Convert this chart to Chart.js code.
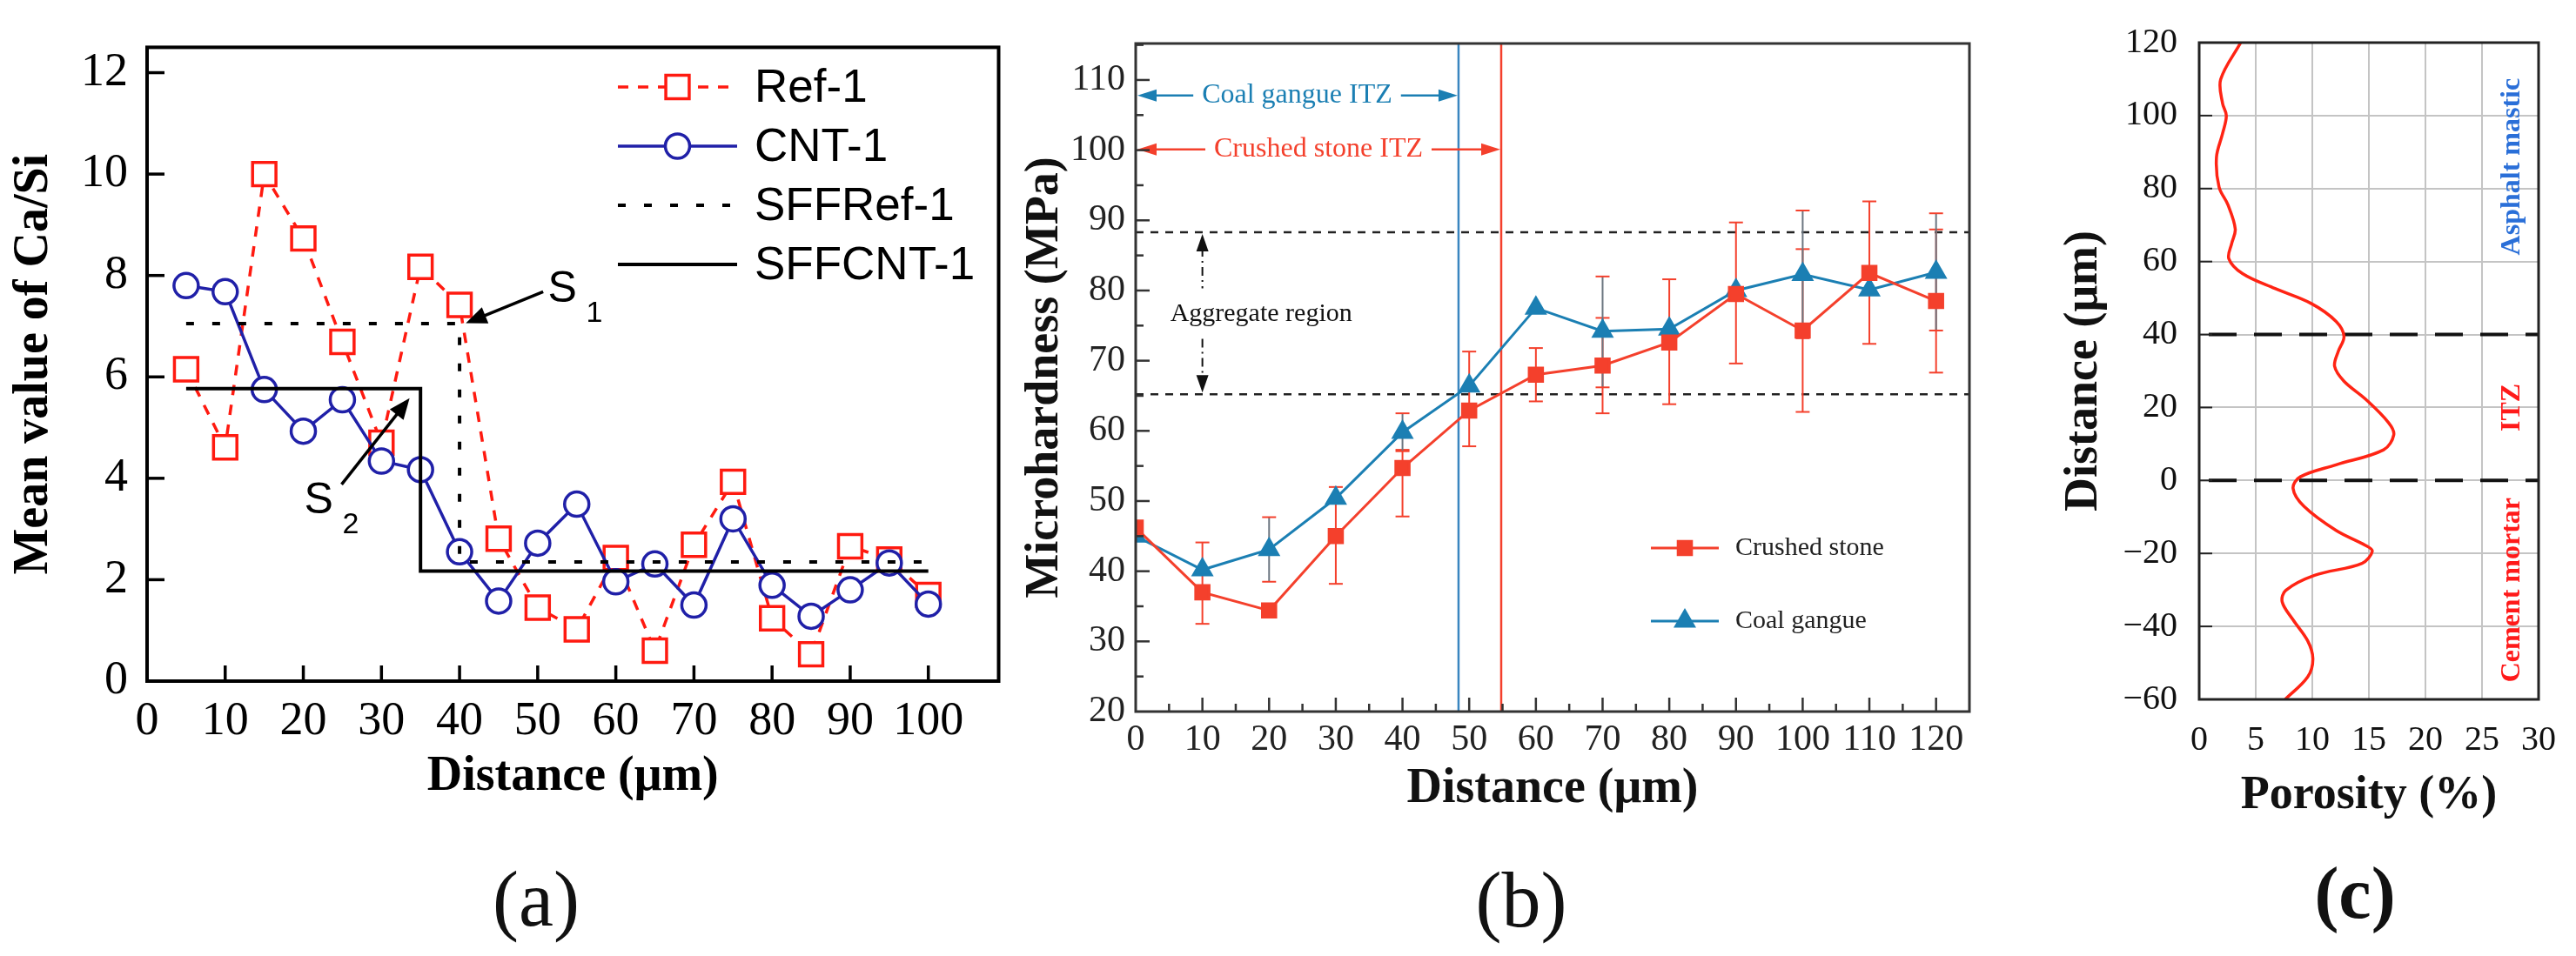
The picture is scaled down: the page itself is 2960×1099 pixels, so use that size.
<!DOCTYPE html>
<html>
<head>
<meta charset="utf-8">
<script src="https://cdn.jsdelivr.net/npm/chart.js@4.4.1/dist/chart.umd.min.js"></script>
<style>
  html, body { margin: 0; padding: 0; background: #fff; }
  body { width: 2960px; height: 1099px; position: relative; overflow: hidden; }
  .panel { position: absolute; }
  .tag { position: absolute; font-family: "Liberation Serif", serif; font-size: 90px; line-height: 1;
         color: #111; transform: translate(-50%, -50%); }
</style>
</head>
<body>
<div class="panel" style="left:0;top:0;width:1170px;height:960px"><canvas id="chartA"></canvas></div>
<div class="panel" style="left:1160px;top:0;width:1120px;height:960px"><canvas id="chartB"></canvas></div>
<div class="panel" style="left:2300px;top:0;width:660px;height:960px"><canvas id="chartC"></canvas></div>
<div class="tag" style="left:616px;top:1034px">(a)</div>
<div class="tag" style="left:1748px;top:1035px">(b)</div>
<div class="tag" style="left:2706px;top:1027px;font-weight:bold;font-size:84px">(c)</div>

<script>
// ── (a) Ca/Si mean value vs distance ------------------------------------------
const distA = [5, 10, 15, 20, 25, 30, 35, 40, 45, 50, 55, 60, 65, 70, 75, 80, 85, 90, 95, 100];
const ref1  = [6.15, 4.61, 10.0, 8.73, 6.69, 4.7, 8.17, 7.42, 2.81, 1.45,
               1.02, 2.43, 0.6, 2.69, 3.93, 1.24, 0.53, 2.66, 2.4, 1.7];
const cnt1  = [7.8, 7.68, 5.75, 4.93, 5.55, 4.34, 4.17, 2.55, 1.58, 2.72,
               3.49, 1.96, 2.31, 1.5, 3.2, 1.89, 1.28, 1.8, 2.33, 1.52];
// step fits (SFF)
const sffRefX = [5, 40, 40, 100];
const sffRefY = [7.05, 7.05, 2.35, 2.35];
const sffCntX = [5, 35, 35, 100];
const sffCntY = [5.77, 5.77, 2.17, 2.17];
const seriesA = ['Ref-1', 'CNT-1', 'SFFRef-1', 'SFFCNT-1'];

// ── (b) microhardness -------------------------------------------------------------
const distB       = [0, 10, 20, 30, 40, 50, 60, 70, 80, 90, 100, 110, 120];
const crushed     = [46.2, 37.0, 34.4, 45.0, 54.7, 62.9, 68.0, 69.3, 72.6, 79.5, 74.3, 82.5, 78.5];
const gangue      = [45.0, 40.2, 43.1, 50.4, 59.8, 66.4, 77.5, 74.2, 74.5, 80.0, 82.3, 80.1, 82.6];
const crushedLow  = [null, 32.5, null, 38.2, 47.8, 57.8, 64.2, 62.5, 63.8, 69.6, 62.7, 72.4, 68.3];
const crushedHigh = [null, 44.1, null, 52.0, 57.3, 71.3, 71.8, 76.1, 81.6, 89.7, 85.9, 92.7, 88.7];
const gangueLow   = [null, null, 38.5, null, 57.1, null, null, 66.2, null, null, 73.2, null, 74.3];
const gangueHigh  = [null, null, 47.7, null, 62.5, null, null, 82.0, null, null, 91.4, null, 91.0];
const gangueITZ   = 48.4;   // µm, ITZ width
const crushedITZ  = 54.8;
const aggregateBand = [65.2, 88.3];   // MPa
const seriesB = ['Crushed stone', 'Coal gangue'];

// ── (c) porosity profile ---------------------------------------------------------
const porosity = [3.67, 1.9, 2.07, 2.4, 2.07, 1.53, 1.76, 2.55, 3.19, 2.87, 2.62, 3.83, 6.7,
                  9.9, 12.1, 12.8, 12.3, 11.97, 12.8, 14.7, 16.75, 17.2, 16.3, 12.1, 8.94, 8.3,
                  9.26, 12.1, 14.7, 15.3, 14.4, 10.2, 7.66, 7.34, 8.3, 9.6, 10.05, 9.6, 7.6];
const depthC   = [120, 109.9, 103.3, 100, 95.1, 88.6, 80.4, 75.5, 68.9, 64.9, 60.8, 56.7, 52.6,
                  48.5, 43.6, 39.5, 35.4, 31.3, 27.2, 22.3, 15.8, 12.5, 8.4, 4.3, 1.0, -2.2,
                  -7.1, -13.7, -17.8, -19.4, -22.7, -26.0, -30.1, -33.3, -38.2, -44.0, -48.9, -53.8, -60];
const zoneBounds = [40, 0];
const zoneNames  = ['Asphalt mastic', 'ITZ', 'Cement mortar'];
const zoneMid    = [86, 20, -30];

const pts = (xs, ys) => xs.map((x, i) => ({ x, y: ys[i] }));

Chart.defaults.font.family = '"Liberation Serif", serif';
Chart.defaults.color = '#000';

// ── small canvas helpers
function seg(ctx, x1, y1, x2, y2) {
  ctx.beginPath(); ctx.moveTo(x1, y1); ctx.lineTo(x2, y2); ctx.stroke();
}
function head(ctx, x, y, ang, len, half) {
  ctx.save();
  ctx.translate(x, y); ctx.rotate(ang);
  ctx.beginPath(); ctx.moveTo(0, 0); ctx.lineTo(-len, -half); ctx.lineTo(-len, half); ctx.closePath();
  ctx.fill();
  ctx.restore();
}
function arrow(ctx, x1, y1, x2, y2, len, half) {
  const ang = Math.atan2(y2 - y1, x2 - x1);
  seg(ctx, x1, y1, x2 - Math.cos(ang) * len * 0.8, y2 - Math.sin(ang) * len * 0.8);
  head(ctx, x2, y2, ang, len, half);
}
const keepTicks = (step, max) => (s) => { s.ticks = s.ticks.filter(t => t.value % step === 0 && t.value <= max); };

// ── (a) ----------------------------------------------------------------------------
function drawPanelA() {
  const RED = '#ff1a10', BLUE = '#2020a8';

  const decoA = {
    id: 'decoA',
    afterDatasetsDraw(chart) {
      const { ctx, chartArea: a, scales: { x, y } } = chart;
      ctx.save();
      ctx.strokeStyle = '#000';
      ctx.lineWidth = 4;
      ctx.strokeRect(a.left, a.top, a.right - a.left, a.bottom - a.top);
      ctx.lineWidth = 3.5;
      x.ticks.forEach(t => { const px = x.getPixelForValue(t.value); if (px > a.left + 2) seg(ctx, px, a.bottom, px, a.bottom - 18); });
      y.ticks.forEach(t => { const py = y.getPixelForValue(t.value); if (py < a.bottom - 2) seg(ctx, a.left, py, a.left + 20, py); });

      // legend
      chart.data.datasets.forEach((ds, i) => {
        const yy = 100 + i * 68, x0 = 710, x1 = 847;
        ctx.strokeStyle = ds.borderColor;
        ctx.lineWidth = ds.borderWidth;
        ctx.setLineDash(ds.borderDash || []);
        seg(ctx, x0, yy, x1, yy);
        ctx.setLineDash([]);
        if (ds.pointRadius > 0) {
          ctx.fillStyle = '#fff';
          ctx.lineWidth = ds.pointBorderWidth;
          Chart.helpers.drawPoint(ctx, { pointStyle: ds.pointStyle, radius: ds.pointRadius, borderWidth: ds.pointBorderWidth }, (x0 + x1) / 2, yy);
        }
        ctx.fillStyle = '#000';
        ctx.font = '53px "Liberation Sans", Arial, sans-serif';
        ctx.textBaseline = 'middle';
        ctx.fillText(ds.label, 867, yy + 2);
      });

      // S1 / S2 call-outs
      ctx.strokeStyle = '#000'; ctx.fillStyle = '#000'; ctx.lineWidth = 3.5;
      arrow(ctx, x.getPixelForValue(50.7), y.getPixelForValue(7.68), x.getPixelForValue(40.8), y.getPixelForValue(7.06), 24, 10);
      arrow(ctx, x.getPixelForValue(24.9), y.getPixelForValue(3.88), x.getPixelForValue(33.6), y.getPixelForValue(5.58), 24, 10);
      ctx.textBaseline = 'middle';
      ctx.font = '50px "Liberation Sans", Arial, sans-serif';
      ctx.fillText('S', x.getPixelForValue(51.3), y.getPixelForValue(7.71));
      ctx.fillText('S', x.getPixelForValue(20.1), y.getPixelForValue(3.54));
      ctx.font = '34px "Liberation Sans", Arial, sans-serif';
      ctx.fillText('1', x.getPixelForValue(56.2), y.getPixelForValue(7.25));
      ctx.fillText('2', x.getPixelForValue(25.0), y.getPixelForValue(3.08));
      ctx.restore();
    }
  };

  new Chart(document.getElementById('chartA'), {
    type: 'line',
    data: {
      datasets: [
        { label: seriesA[0], data: pts(distA, ref1), borderColor: RED, borderWidth: 3.5, borderDash: [12, 11],
          pointStyle: 'rect', pointRadius: 19, pointBorderWidth: 3.5, pointBorderColor: RED, pointBackgroundColor: '#fff', order: 2 },
        { label: seriesA[1], data: pts(distA, cnt1), borderColor: BLUE, borderWidth: 3.5,
          pointStyle: 'circle', pointRadius: 14, pointBorderWidth: 3.5, pointBorderColor: BLUE, pointBackgroundColor: '#fff', order: 1 },
        { label: seriesA[2], data: pts(sffRefX, sffRefY), borderColor: '#000', borderWidth: 4, borderDash: [9, 21], pointRadius: 0, order: 0 },
        { label: seriesA[3], data: pts(sffCntX, sffCntY), borderColor: '#000', borderWidth: 4, pointRadius: 0, order: 0 }
      ]
    },
    options: {
      responsive: true, maintainAspectRatio: false, animation: false, devicePixelRatio: 1,
      layout: { padding: { left: 0, top: 50, right: 16, bottom: 0 } },
      plugins: { legend: { display: false }, tooltip: { enabled: false } },
      scales: {
        x: {
          type: 'linear', min: 0, max: 109,
          grid: { display: false, drawTicks: false }, border: { display: false },
          ticks: { stepSize: 10, includeBounds: false, autoSkip: false, maxRotation: 0, padding: 14, font: { size: 54 }, color: '#000' },
          afterBuildTicks: keepTicks(10, 100),
          afterFit: (s) => { s.height = 177; },
          title: { display: true, text: 'Distance (μm)', font: { size: 56, weight: 'bold' }, padding: { bottom: 33 } }
        },
        y: {
          type: 'linear', min: 0, max: 12.5,
          grid: { display: false, drawTicks: false }, border: { display: false },
          ticks: { stepSize: 2, includeBounds: false, padding: 22, font: { size: 54 }, color: '#000' },
          afterBuildTicks: keepTicks(2, 12),
          afterFit: (s) => { s.width = 169; },
          title: { display: true, text: 'Mean value of Ca/Si', font: { size: 56, weight: 'bold' }, padding: { top: 6 } }
        }
      }
    },
    plugins: [decoA]
  });
}

// ── (b) ----------------------------------------------------------------------------
function drawPanelB() {
  const RED = '#f4402c', BLUE = '#1b7fb3';

  function errBars(ctx, x, y, lo, hi, stem, cap) {
    ctx.lineWidth = 2;
    distB.forEach((v, i) => {
      if (lo[i] == null) return;
      const px = x.getPixelForValue(v), p1 = y.getPixelForValue(lo[i]), p2 = y.getPixelForValue(hi[i]);
      ctx.strokeStyle = stem; seg(ctx, px, p1, px, p2);
      ctx.strokeStyle = cap; seg(ctx, px - 8, p1, px + 8, p1); seg(ctx, px - 8, p2, px + 8, p2);
    });
  }

  function itzArrow(ctx, x, y, toV, atV, text, color) {
    const x0 = x.getPixelForValue(0), x1 = x.getPixelForValue(toV), py = y.getPixelForValue(atV);
    ctx.font = '32px "Liberation Serif", serif';
    const w = ctx.measureText(text).width, cx = (x0 + x1) / 2;
    ctx.strokeStyle = color; ctx.fillStyle = color; ctx.lineWidth = 2.5;
    seg(ctx, x0 + 10, py, cx - w / 2 - 10, py);
    seg(ctx, cx + w / 2 + 10, py, x1 - 10, py);
    head(ctx, x0 + 2, py, Math.PI, 22, 7);
    head(ctx, x1 - 1, py, 0, 22, 7);
    ctx.textAlign = 'center'; ctx.textBaseline = 'middle';
    ctx.fillText(text, cx, py);
  }

  const decoB = {
    id: 'decoB',
    beforeDatasetsDraw(chart) {
      const { ctx, chartArea: a, scales: { x, y } } = chart;
      ctx.save();
      // ITZ boundaries
      ctx.lineWidth = 2.5;
      ctx.strokeStyle = '#3a86c0'; seg(ctx, x.getPixelForValue(gangueITZ), a.top, x.getPixelForValue(gangueITZ), a.bottom);
      ctx.strokeStyle = RED;       seg(ctx, x.getPixelForValue(crushedITZ), a.top, x.getPixelForValue(crushedITZ), a.bottom);
      // aggregate band
      ctx.strokeStyle = '#222'; ctx.setLineDash([9, 8]);
      aggregateBand.forEach(v => seg(ctx, a.left, y.getPixelForValue(v), a.right, y.getPixelForValue(v)));
      ctx.setLineDash([]);
      itzArrow(ctx, x, y, gangueITZ, 107.8, 'Coal gangue ITZ', BLUE);
      itzArrow(ctx, x, y, crushedITZ, 100.1, 'Crushed stone ITZ', RED);

      // aggregate region double arrow
      const ax = x.getPixelForValue(10), top = y.getPixelForValue(aggregateBand[1]), bot = y.getPixelForValue(aggregateBand[0]);
      const ty = y.getPixelForValue(76.6);
      ctx.strokeStyle = '#111'; ctx.fillStyle = '#111'; ctx.lineWidth = 2;
      ctx.setLineDash([10, 5, 2, 5]);
      seg(ctx, ax, top + 18, ax, ty - 30);
      seg(ctx, ax, ty + 28, ax, bot - 18);
      ctx.setLineDash([]);
      head(ctx, ax, top + 2, -Math.PI / 2, 20, 7);
      head(ctx, ax, bot - 2, Math.PI / 2, 20, 7);
      ctx.font = '30px "Liberation Serif", serif';
      ctx.textAlign = 'left'; ctx.textBaseline = 'middle';
      ctx.fillText('Aggregate region', ax - 37, ty);

      errBars(ctx, x, y, crushedLow, crushedHigh, RED, RED);
      errBars(ctx, x, y, gangueLow, gangueHigh, '#6c7680', RED);
      ctx.restore();
    },
    afterDatasetsDraw(chart) {
      const { ctx, chartArea: a, scales: { x, y } } = chart;
      ctx.save();
      ctx.strokeStyle = '#333'; ctx.lineWidth = 3;
      ctx.strokeRect(a.left, a.top, a.right - a.left, a.bottom - a.top);
      ctx.lineWidth = 2.5;
      for (let v = 5; v < x.max; v += 5) {
        const px = x.getPixelForValue(v);
        seg(ctx, px, a.bottom, px, a.bottom - (v % 10 === 0 ? 16 : 9));
      }
      for (let v = 25; v < y.max; v += 5) {
        const py = y.getPixelForValue(v);
        seg(ctx, a.left, py, a.left + (v % 10 === 0 ? 16 : 9), py);
      }
      // legend
      chart.data.datasets.forEach((ds, i) => {
        const yy = 630 + i * 84, x0 = 737, x1 = 815;
        ctx.strokeStyle = ds.borderColor; ctx.fillStyle = ds.borderColor; ctx.lineWidth = ds.borderWidth;
        seg(ctx, x0, yy, x1, yy);
        Chart.helpers.drawPoint(ctx, { pointStyle: ds.pointStyle, radius: ds.pointRadius, borderWidth: 1 }, (x0 + x1) / 2, yy);
        ctx.fillStyle = '#222';
        ctx.font = '30px "Liberation Serif", serif';
        ctx.textBaseline = 'middle';
        ctx.fillText(ds.label, 834, yy);
      });
      ctx.restore();
    }
  };

  new Chart(document.getElementById('chartB'), {
    type: 'line',
    data: {
      datasets: [
        { label: seriesB[0], data: pts(distB, crushed), borderColor: RED, backgroundColor: RED, borderWidth: 3,
          pointStyle: 'rect', pointRadius: 11, pointBackgroundColor: RED, pointBorderColor: RED },
        { label: seriesB[1], data: pts(distB, gangue), borderColor: BLUE, backgroundColor: BLUE, borderWidth: 3,
          pointStyle: 'triangle', pointRadius: 12, pointBackgroundColor: BLUE, pointBorderColor: BLUE }
      ]
    },
    options: {
      responsive: true, maintainAspectRatio: false, animation: false, devicePixelRatio: 1,
      layout: { padding: { left: 0, top: 50, right: 17, bottom: 0 } },
      plugins: { legend: { display: false }, tooltip: { enabled: false } },
      scales: {
        x: {
          type: 'linear', min: 0, max: 125,
          grid: { display: false, drawTicks: false }, border: { display: false },
          ticks: { stepSize: 10, includeBounds: false, autoSkip: false, maxRotation: 0, padding: 8, font: { size: 42 }, color: '#222' },
          afterBuildTicks: keepTicks(10, 120),
          afterFit: (s) => { s.height = 142; },
          title: { display: true, text: 'Distance (μm)', font: { size: 56, weight: 'bold' }, color: '#111', padding: { bottom: 19 } }
        },
        y: {
          type: 'linear', min: 20, max: 115.2,
          grid: { display: false, drawTicks: false }, border: { display: false },
          ticks: { stepSize: 10, includeBounds: false, padding: 12, font: { size: 42 }, color: '#222' },
          afterBuildTicks: keepTicks(10, 110),
          afterFit: (s) => { s.width = 145; },
          title: { display: true, text: 'Microhardness (MPa)', font: { size: 54, weight: 'bold' }, color: '#111', padding: { top: 9 } }
        }
      }
    },
    plugins: [decoB]
  });
}

// ── (c) ----------------------------------------------------------------------------
function drawPanelC() {
  const zoneColors = ['#2a6fd8', '#ff1a1a', '#ff1a1a'];

  const decoC = {
    id: 'decoC',
    beforeDatasetsDraw(chart) {
      const { ctx, chartArea: a, scales: { y } } = chart;
      ctx.save();
      ctx.strokeStyle = '#111'; ctx.lineWidth = 4; ctx.setLineDash([32, 20]);
      zoneBounds.forEach(v => seg(ctx, a.left + 11, y.getPixelForValue(v), a.right, y.getPixelForValue(v)));
      ctx.restore();
    },
    afterDatasetsDraw(chart) {
      const { ctx, chartArea: a, scales: { x, y } } = chart;
      ctx.save();
      ctx.strokeStyle = '#222'; ctx.lineWidth = 3;
      ctx.strokeRect(a.left, a.top, a.right - a.left, a.bottom - a.top);
      ctx.lineWidth = 2;
      y.ticks.forEach(t => { const py = y.getPixelForValue(t.value); seg(ctx, a.left, py, a.left + 15, py); });
      ctx.font = 'bold 32px "Liberation Serif", serif';
      ctx.textAlign = 'center'; ctx.textBaseline = 'middle';
      zoneNames.forEach((name, i) => {
        ctx.save();
        ctx.translate(x.getPixelForValue(27.7), y.getPixelForValue(zoneMid[i]));
        ctx.rotate(-Math.PI / 2);
        ctx.fillStyle = zoneColors[i];
        ctx.fillText(name, 0, 0);
        ctx.restore();
      });
      ctx.restore();
    }
  };

  new Chart(document.getElementById('chartC'), {
    type: 'line',
    data: {
      datasets: [{
        label: 'Porosity', data: pts(porosity, depthC), borderColor: '#ff2414', borderWidth: 3.5,
        tension: 0.35, pointRadius: 0
      }]
    },
    options: {
      responsive: true, maintainAspectRatio: false, animation: false, devicePixelRatio: 1,
      layout: { padding: { left: 0, top: 34, right: 37, bottom: 0 } },
      plugins: { legend: { display: false }, tooltip: { enabled: false } },
      scales: {
        x: {
          type: 'linear', min: 0, max: 30,
          grid: { color: '#c4c4c4', lineWidth: 2, drawTicks: false }, border: { display: false },
          ticks: { stepSize: 5, autoSkip: false, maxRotation: 0, padding: 23, font: { size: 40 }, color: '#111' },
          afterFit: (s) => { s.height = 156; },
          title: { display: true, text: 'Porosity (%)', font: { size: 54, weight: 'bold' }, color: '#111', padding: { bottom: 13 } }
        },
        y: {
          type: 'linear', min: -60, max: 120,
          grid: { color: '#c4c4c4', lineWidth: 2, drawTicks: false }, border: { display: false },
          ticks: { stepSize: 20, padding: 25, font: { size: 40 }, color: '#111',
                   callback: (v) => String(v).replace('-', '\u2212') },
          afterFit: (s) => { s.width = 227; },
          title: { display: true, text: 'Distance (μm)', font: { size: 54, weight: 'bold' }, color: '#111', padding: { top: 63 } }
        }
      }
    },
    plugins: [decoC]
  });
}

window.addEventListener('DOMContentLoaded', () => {
  drawPanelA();
  drawPanelB();
  drawPanelC();
});
</script>
</body>
</html>
